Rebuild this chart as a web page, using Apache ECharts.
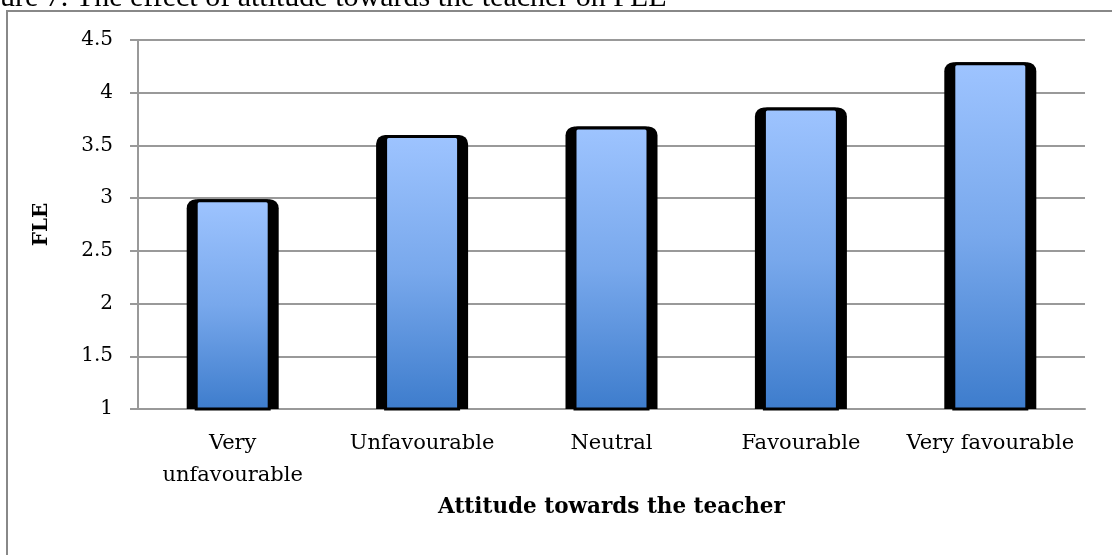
<!DOCTYPE html>
<html>
<head>
<meta charset="utf-8">
<script src="https://cdn.jsdelivr.net/npm/echarts@6/dist/echarts.min.js"></script>
<style>
html, body { margin: 0; padding: 0; background: #fff; }
#chart { width: 1112px; height: 555px; }
</style>
</head>
<body>
<div id="chart"></div>
<script>
// data
const categories = ['Very\nunfavourable', 'Unfavourable', 'Neutral', 'Favourable', 'Very favourable']
const fleValues = [2.99, 3.6, 3.68, 3.86, 4.29]
const yTicks = { min: 1, max: 4.5, step: 0.5 }

const font = 'DejaVu Serif'
const chart = echarts.init(document.getElementById('chart'))

const option = {
    animation: false,
    backgroundColor: '#fff',
    graphic: [
        { // caption above the frame, cut off by the page edge
            type: 'text', x: -40, y: -2,
            style: { text: 'Figure 7. The effect of attitude towards the teacher on FLE', font: '30px "Liberation Serif"', fill: '#000', verticalAlign: 'middle' }
        },
        { // outer frame
            type: 'rect', shape: { x: 7, y: 11, width: 1200, height: 600 },
            style: { fill: 'none', stroke: '#888', lineWidth: 2 }, z: -1
        }
    ],
    grid: { left: 138, right: 27, top: 40, bottom: 146 },
    xAxis: [{
        type: 'category',
        data: categories,
        name: 'Attitude towards the teacher',
        nameLocation: 'middle',
        nameGap: 86,
        nameTextStyle: { fontFamily: font, fontWeight: 'bold', fontSize: 21.5, color: '#000' },
        axisLine: { lineStyle: { color: '#999', width: 2 } },
        axisTick: { show: false },
        axisLabel: { fontFamily: font, fontSize: 21, color: '#000', lineHeight: 32, margin: 19, interval: 0 }
    }, {
        type: 'category',
        data: categories,
        show: false
    }],
    yAxis: {
        type: 'value',
        min: yTicks.min, max: yTicks.max, interval: yTicks.step,
        name: 'FLE',
        nameLocation: 'middle',
        nameGap: 86,
        nameTextStyle: { fontFamily: font, fontWeight: 'bold', fontSize: 20, color: '#000' },
        axisLine: { show: true, lineStyle: { color: '#999', width: 2 } },
        axisTick: { show: true, length: 8, lineStyle: { color: '#999', width: 2 } },
        axisLabel: { fontFamily: font, fontSize: 20, color: '#000', margin: 25 },
        splitLine: { lineStyle: { color: '#999', width: 2 } }
    },
    series: [{
        // black shadow behind the bar
        type: 'bar',
        xAxisIndex: 1,
        barWidth: 92,
        data: fleValues,
        itemStyle: { color: '#000', borderRadius: [9, 9, 0, 0] },
        z: 2
    }, {
        type: 'bar',
        xAxisIndex: 0,
        barWidth: 76,
        data: fleValues,
        itemStyle: {
            color: new echarts.graphic.LinearGradient(0, 0, 0, 1, [
                { offset: 0, color: '#9ec4ff' },
                { offset: 0.5, color: '#78a8ec' },
                { offset: 1, color: '#3d7ccc' }
            ]),
            borderColor: '#000',
            borderWidth: 3,
            borderRadius: [3, 3, 0, 0]
        },
        z: 3
    }]
}
chart.setOption(option)
</script>
</body>
</html>
